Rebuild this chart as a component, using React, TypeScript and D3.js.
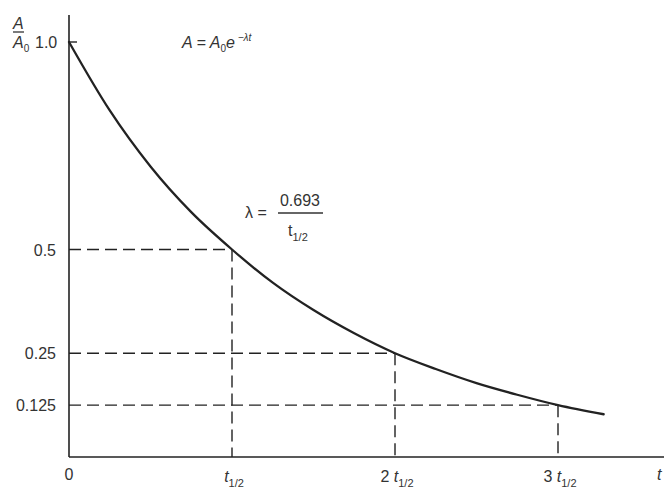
import * as d3 from "d3";
import * as React from "react";

// half-life multiples and the fraction left at each one
const halfLives = [1, 2, 3];
const fractions = [0.5, 0.25, 0.125];
const fractionLabels = ["0.5", "0.25", "0.125"];
const xTickPrefix = ["", "2 ", "3 "];

// decay curve (t in half-lives, A/A0)
const curveT = [0, 0.25, 0.5, 0.75, 1, 1.25, 1.5, 1.75, 2, 2.25, 2.5, 2.75, 3, 3.28];
const curveA = [1, 0.835, 0.7, 0.59, 0.5, 0.42, 0.354, 0.298, 0.25, 0.212, 0.178, 0.15, 0.125, 0.103];

const width = 664;
const height = 488;
const font = "'Liberation Sans', Arial, sans-serif";
const ink = "#222";
const txt = "#333";

export default function App() {
  const x = d3.scaleLinear().domain([0, 3]).range([69, 558]);
  const y = d3.scaleLinear().domain([0, 1]).range([457, 42]);

  const line = d3
    .line<number>()
    .x((d, i) => x(curveT[i]))
    .y((d) => y(d))
    .curve(d3.curveMonotoneX);

  return (
    <svg
      width={width}
      height={height}
      style={{ position: "absolute", left: 0, top: 0, background: "#fff" }}
      fontFamily={font}
    >
      {/* axes */}
      <line x1={x(0)} x2={x(0)} y1={15} y2={y(0)} stroke={ink} strokeWidth={1.6} />
      <line x1={x(0)} x2={width} y1={y(0)} y2={y(0)} stroke={ink} strokeWidth={1.6} />
      <line x1={x(0)} x2={x(0) + 8} y1={y(1)} y2={y(1)} stroke={ink} strokeWidth={1.4} />

      {/* dashed guides */}
      {halfLives.map((h, i) => (
        <g key={h} stroke={ink} strokeWidth={1.4} strokeDasharray="12,6" fill="none">
          <line x1={x(0)} x2={x(h)} y1={y(fractions[i])} y2={y(fractions[i])} />
          <line x1={x(h)} x2={x(h)} y1={y(fractions[i])} y2={y(0)} />
        </g>
      ))}

      {/* curve */}
      <path d={line(curveA) ?? ""} fill="none" stroke={ink} strokeWidth={2.3} strokeLinecap="round" />

      {/* y tick labels */}
      {fractions.map((f, i) => (
        <text key={f} x={56} y={y(f) + 6} textAnchor="end" fontSize={16} fill={txt}>
          {fractionLabels[i]}
        </text>
      ))}
      <text x={35} y={y(1) + 6} fontSize={16} fill={txt}>1.0</text>

      {/* A / A0 */}
      <text x={13} y={29} fontSize={16} fontStyle="italic" fill={txt}>A</text>
      <line x1={13} x2={24} y1={32} y2={32} stroke={txt} strokeWidth={1.3} />
      <text x={13} y={y(1) + 6} fontSize={16} fontStyle="italic" fill={txt}>
        A<tspan fontSize={10} dy={4} fontStyle="normal">0</tspan>
      </text>

      {/* x tick labels */}
      <text x={x(0)} y={480} textAnchor="middle" fontSize={16} fill={txt}>0</text>
      {halfLives.map((h, i) => (
        <text key={h} x={x(h) + 2} y={482} textAnchor="middle" fontSize={16} fill={txt}>
          {xTickPrefix[i]}
          <tspan fontStyle="italic">t</tspan>
          <tspan fontSize={11} dy={5}>1/2</tspan>
        </text>
      ))}
      <text x={657} y={480} fontSize={16} fontStyle="italic" fill={txt}>t</text>

      {/* formula */}
      <text x={182} y={48} fontSize={16} fontStyle="italic" fill={txt}>
        A = A<tspan fontSize={10} dy={4} fontStyle="normal">0</tspan>
        <tspan dy={-4}>e</tspan>
        <tspan fontSize={10} dy={-7}>{" −λt"}</tspan>
      </text>

      {/* lambda */}
      <text x={245} y={218} fontSize={16} fill={txt}>λ =</text>
      <text x={300} y={206} textAnchor="middle" fontSize={16} fill={txt}>0.693</text>
      <line x1={278} x2={323} y1={213} y2={213} stroke={txt} strokeWidth={1.4} />
      <text x={288} y={236} fontSize={16} fill={txt}>
        t<tspan fontSize={11} dy={5}>1/2</tspan>
      </text>
    </svg>
  );
}
